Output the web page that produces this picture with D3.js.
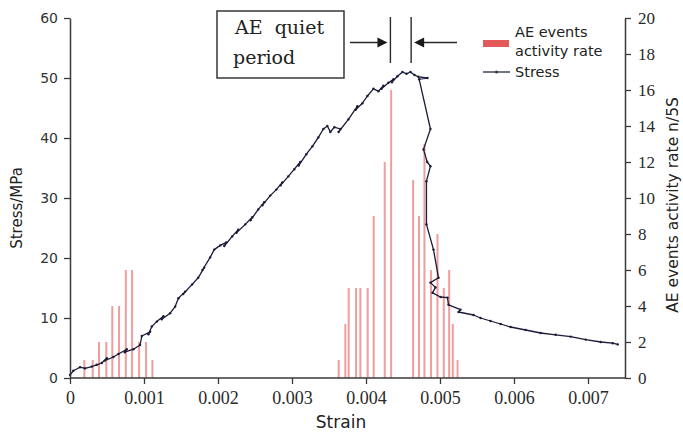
<!DOCTYPE html>
<html>
<head>
<meta charset="utf-8">
<script src="https://cdn.jsdelivr.net/npm/d3@7/dist/d3.min.js"></script>
<style>
  html, body { margin: 0; padding: 0; background: #fff; }
  svg { display: block; }
</style>
</head>
<body>
<svg id="chart" width="683" height="433"></svg>
<script>
// ---------------- DATA ----------------
// AE events activity rate (bars, right axis)
const barStrain = [0.000194, 0.000307, 0.000392, 0.000491, 0.000572, 0.000663, 0.000754, 0.000839, 0.000934, 0.001028, 0.001114,
                   0.003631, 0.003721, 0.003766, 0.003866, 0.003924, 0.004023, 0.004104, 0.004253, 0.004340,
                   0.004637, 0.004716, 0.004790, 0.004878, 0.004966, 0.005051, 0.005124, 0.005173, 0.005237];
const barRate   = [1, 1, 2, 2, 4, 4, 6, 6, 2, 2, 1,
                   1, 3, 5, 5, 5, 5, 9, 12, 16,
                   11, 9, 13, 6, 8, 5, 6, 3, 1];

// Stress curve (left axis)
const curveStrain = [0, 0.000045, 0.000135, 0.000203, 0.000294, 0.000361, 0.000429, 0.000497, 0.000470, 0.000586, 0.000654,
  0.000767, 0.000740, 0.000857, 0.000947, 0.000970, 0.001083, 0.001060, 0.001106, 0.001173, 0.001263, 0.001240, 0.001353, 0.001421, 0.001465,
  0.001556, 0.001530, 0.001651, 0.001732, 0.001813, 0.001790, 0.001894, 0.001949, 0.002030, 0.002111, 0.002085, 0.002192, 0.002273, 0.002250, 0.002368,
  0.002463, 0.002440, 0.002544, 0.002625, 0.002600, 0.002706, 0.002788, 0.002869, 0.002845, 0.002950, 0.003031, 0.003112, 0.003090, 0.003194, 0.003275,
  0.003356, 0.003424, 0.003478, 0.003518, 0.003572, 0.003654, 0.003630, 0.003762, 0.003884, 0.003860, 0.003951, 0.004019, 0.004100,
  0.004168, 0.004235, 0.004210, 0.004303, 0.004371, 0.004350, 0.004425, 0.004493, 0.004547, 0.004601, 0.004655, 0.004709, 0.004831,
  0.004718, 0.004871, 0.004777, 0.004827, 0.004871, 0.004817, 0.004817, 0.004912, 0.004980, 0.004871, 0.004939,
  0.004899, 0.005007, 0.005101, 0.005115, 0.005277, 0.005250, 0.005453, 0.005548, 0.005683, 0.005819, 0.005954, 0.006157,
  0.006360, 0.006563, 0.006766, 0.006969, 0.007172, 0.007334, 0.007402];
const curveStress = [0.5, 1.2, 1.8, 1.6, 1.9, 2.2, 2.5, 3.3, 2.9, 3.5, 4.0,
  4.8, 4.3, 4.8, 5.5, 7.0, 7.7, 7.3, 8.6, 9.4, 10.3, 9.8, 10.8, 11.9, 13.3,
  14.4, 14.0, 15.6, 16.7, 18.4, 18.0, 20.1, 21.4, 22.1, 22.6, 22.0, 23.6, 24.7, 24.2, 25.6,
  26.8, 26.3, 28.1, 29.3, 28.8, 30.4, 31.4, 32.6, 32.1, 33.6, 34.8, 36.0, 35.4, 37.3, 38.6,
  40.1, 41.5, 42.0, 41.0, 41.8, 41.5, 41.0, 43.1, 45.3, 44.7, 45.8, 47.0, 48.2,
  47.8, 48.7, 48.2, 49.2, 49.8, 49.3, 50.3, 51.0, 50.7, 51.0, 50.5, 50.2, 50.0,
  49.8, 41.5, 38.1, 36.0, 35.3, 32.8, 25.6, 21.4, 16.7, 15.9, 15.1,
  14.2, 13.5, 13.4, 12.2, 11.4, 11.0, 10.5, 10.0, 9.5, 9.0, 8.5, 8.0,
  7.5, 7.2, 6.9, 6.4, 6.0, 5.8, 5.6];

const xTicks = [0, 0.001, 0.002, 0.003, 0.004, 0.005, 0.006, 0.007];
const xTickLabels = ["0", "0.001", "0.002", "0.003", "0.004", "0.005", "0.006", "0.007"];
const yLeftTicks = [0, 10, 20, 30, 40, 50, 60];
const yRightTicks = [0, 2, 4, 6, 8, 10, 12, 14, 16, 18, 20];
const quietPeriod = [0.00433, 0.00461];

// ---------------- CHART ----------------
const svg = d3.select("#chart");
const L = 70, R = 625, T = 18, B = 378;

const x = d3.scaleLinear().domain([0, 0.0075]).range([L, R]);
const yL = d3.scaleLinear().domain([0, 60]).range([B, T]);
const yR = d3.scaleLinear().domain([0, 20]).range([B, T]);

const axisColor = "#3a3a3a";

// bars
svg.append("g").selectAll("rect").data(barStrain).join("rect")
  .attr("x", d => x(d) - 1)
  .attr("width", 2)
  .attr("y", (d, i) => yR(barRate[i]))
  .attr("height", (d, i) => yR(0) - yR(barRate[i]))
  .attr("fill", "#ef9d9d");

// stress curve
const pts = curveStrain.map((s, i) => [s, curveStress[i]]);
const line = d3.line().x(d => x(d[0])).y(d => yL(d[1]));
svg.append("path").datum(pts)
  .attr("d", line)
  .attr("fill", "none")
  .attr("stroke", "#1b1b3a")
  .attr("stroke-width", 1.3)
  .attr("stroke-linejoin", "round");
svg.append("g").selectAll("circle").data(pts).join("circle")
  .attr("cx", d => x(d[0])).attr("cy", d => yL(d[1]))
  .attr("r", 1.2).attr("fill", "#1b1b3a");

// axes
function styleAxis(g) {
  g.select(".domain").attr("stroke", axisColor).attr("stroke-width", 1.5);
  g.selectAll(".tick line").attr("stroke", axisColor).attr("stroke-width", 1.3);
  g.selectAll(".tick text").attr("fill", "#2a2a2a");
}

const gx = svg.append("g").attr("transform", `translate(0,${B})`)
  .call(d3.axisBottom(x).tickValues(xTicks).tickFormat((d, i) => xTickLabels[i]).tickSize(6).tickSizeOuter(0).tickPadding(6));
gx.select(".domain").attr("d", `M${L},0H${R}`);
styleAxis(gx);
gx.selectAll(".tick text").attr("font-family", "Liberation Serif").attr("font-size", 18).attr("dy", "0.75em");

const gyl = svg.append("g").attr("transform", `translate(${L},0)`)
  .call(d3.axisLeft(yL).tickValues(yLeftTicks).tickSize(6).tickSizeOuter(0).tickPadding(6));
styleAxis(gyl);
gyl.selectAll(".tick text").attr("font-family", "DejaVu Sans").attr("font-size", 14).attr("fill", "#333");

const gyr = svg.append("g").attr("transform", `translate(${R},0)`)
  .call(d3.axisRight(yR).tickValues(yRightTicks).tickSize(6).tickSizeOuter(0).tickPadding(7));
styleAxis(gyr);
gyr.selectAll(".tick text").attr("font-family", "Liberation Serif").attr("font-size", 17);

// axis titles
svg.append("text").attr("transform", `translate(22,${(T + B) / 2 + 10}) rotate(-90)`)
  .attr("text-anchor", "middle").attr("font-family", "DejaVu Sans").attr("font-size", 15)
  .attr("fill", "#222").text("Stress/MPa");
svg.append("text").attr("transform", `translate(678,${(T + B) / 2 + 7}) rotate(-90)`)
  .attr("text-anchor", "middle").attr("font-family", "DejaVu Sans").attr("font-size", 15.5)
  .attr("fill", "#222").text("AE events activity rate n/5S");
svg.append("text").attr("x", 341).attr("y", 428)
  .attr("text-anchor", "middle").attr("font-family", "DejaVu Sans").attr("font-size", 17)
  .attr("fill", "#222").text("Strain");

// legend
const lg = svg.append("g");
lg.append("rect").attr("x", 483).attr("y", 40).attr("width", 26).attr("height", 7).attr("fill", "#e25a5a");
lg.append("text").attr("x", 515).attr("y", 37).attr("font-family", "DejaVu Sans").attr("font-size", 14.5).attr("fill", "#222").text("AE events");
lg.append("text").attr("x", 515).attr("y", 56).attr("font-family", "DejaVu Sans").attr("font-size", 14.5).attr("fill", "#222").text("activity rate");
lg.append("line").attr("x1", 483).attr("x2", 510).attr("y1", 72).attr("y2", 72).attr("stroke", "#333a55").attr("stroke-width", 1.4);
lg.append("circle").attr("cx", 496.5).attr("cy", 72).attr("r", 1.5).attr("fill", "#333a55");
lg.append("text").attr("x", 515).attr("y", 77).attr("font-family", "DejaVu Sans").attr("font-size", 14.5).attr("fill", "#222").text("Stress");

// annotation: AE quiet period
const an = svg.append("g");
an.append("rect").attr("x", 217).attr("y", 11).attr("width", 127).attr("height", 67)
  .attr("fill", "#fff").attr("stroke", "#2a2a2a").attr("stroke-width", 1.4);
an.append("text").attr("x", 235).attr("y", 34).attr("font-family", "DejaVu Serif").attr("font-size", 19)
  .attr("fill", "#222").style("white-space", "pre").text("AE  quiet");
an.append("text").attr("x", 233).attr("y", 64).attr("font-family", "DejaVu Serif").attr("font-size", 19)
  .attr("fill", "#222").text("period");

const qx0 = x(quietPeriod[0]), qx1 = x(quietPeriod[1]);
[qx0, qx1].forEach(v => {
  an.append("line").attr("x1", v).attr("x2", v).attr("y1", 17).attr("y2", 63)
    .attr("stroke", "#2a2a2a").attr("stroke-width", 1.4);
});
const ay = 42.5;
an.append("line").attr("x1", 350).attr("x2", qx0 - 8).attr("y1", ay).attr("y2", ay).attr("stroke", "#2a2a2a").attr("stroke-width", 1.4);
an.append("path").attr("d", `M${qx0 - 3},${ay} L${qx0 - 13},${ay - 5} L${qx0 - 13},${ay + 5} Z`).attr("fill", "#1a1a1a");
an.append("line").attr("x1", 457).attr("x2", qx1 + 8).attr("y1", ay).attr("y2", ay).attr("stroke", "#2a2a2a").attr("stroke-width", 1.4);
an.append("path").attr("d", `M${qx1 + 3},${ay} L${qx1 + 13},${ay - 5} L${qx1 + 13},${ay + 5} Z`).attr("fill", "#1a1a1a");
</script>
</body>
</html>
